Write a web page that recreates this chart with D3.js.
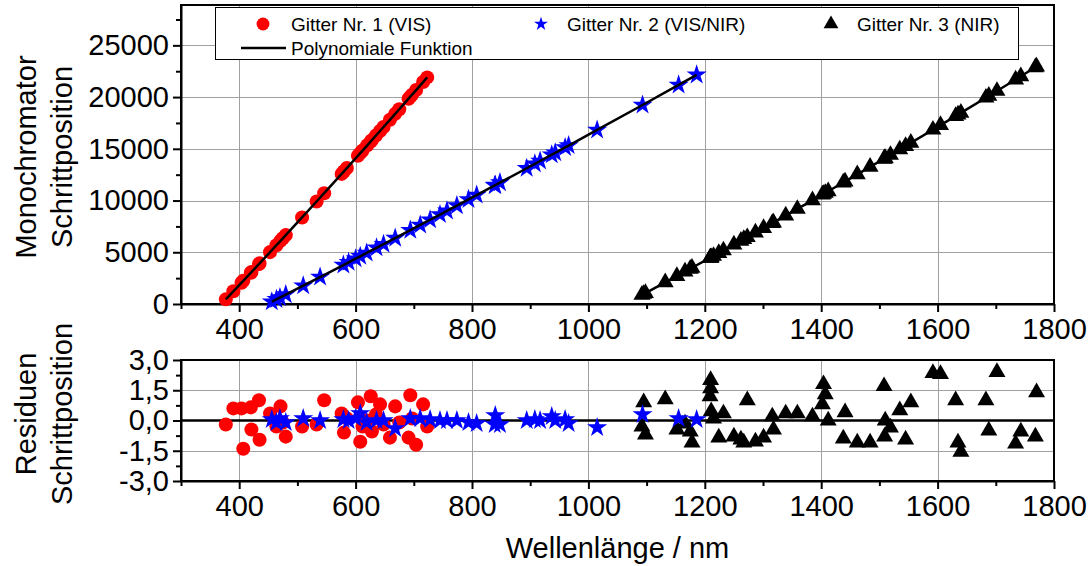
<!doctype html>
<html>
<head>
  <meta charset="utf-8">
  <style type="text/css">
    body { margin: 0; background: #fff; }
    svg { display: block; }
    text { font-family: "Liberation Sans", Arial, sans-serif; fill: #000; }
    .grid line { stroke: #a0a0a0; stroke-width: 1; shape-rendering: crispEdges; }
    .axis path, .axis line { fill: none; stroke: #000; stroke-width: 2; }
    .fit { fill: none; stroke: #000; stroke-width: 2.5; }
  </style>
  <title>Monochromator Kalibrierung</title>
</head>
<body>
<svg class="chart"></svg>

<script type="text/javascript" src="https://cdnjs.cloudflare.com/ajax/libs/d3/7.8.5/d3.min.js"></script>
<script type="text/javascript">

// Gitter Nr. 1 (VIS)
var redX   = [377, 390, 404, 407, 420, 421, 434, 435, 453, 464, 471, 475, 480, 508, 533, 546, 576, 580, 585,
              604, 608, 612, 620, 626, 628, 635, 642, 648, 659, 668, 675, 691, 694, 697, 704, 716, 723];
var redY   = [450, 1225, 2062, 2242, 3022, 3082, 3865, 3926, 5014, 5682, 6107, 6351, 6656, 8369, 9909, 10713,
              12577, 12827, 13139, 14330, 14581, 14832, 15336, 15714, 15840, 16283, 16725, 17106, 17804, 18377,
              18823, 19846, 20038, 20230, 20679, 21451, 21902];
var redRes = [-0.2, 0.6, 0.6, -1.4, 0.65, -0.45, 1.0, -0.95, 0.35, -0.3, 0.7, -0.1, -0.8, -0.3, -0.2, 1.0,
              0.35, -0.6, 0.1, 0.9, -1.05, -0.3, 0.0, 1.2, -0.55, 0.3, 0.8, -0.2, -0.85, 0.7, -0.1, -0.85,
              1.25, 0.1, -1.2, 0.8, -0.3];

// Gitter Nr. 2 (VIS/NIR)
var blueX   = [456, 464, 470, 480, 510, 539, 579, 588, 600, 608, 619, 636, 648, 668, 694, 711, 728, 745, 757,
               774, 794, 808, 839, 840, 848, 894, 908, 917, 937, 943, 960, 966, 1015, 1093, 1155, 1186];
var blueY   = [220, 449, 621, 907, 1769, 2606, 3766, 4027, 4377, 4610, 4932, 5429, 5781, 6368, 7136, 7638,
               8142, 8647, 9004, 9511, 10109, 10528, 11459, 11489, 11731, 13122, 13547, 13820, 14429, 14612,
               15132, 15316, 16821, 19237, 21175, 22149];
var blueRes = [0.05, -0.1, 0.1, -0.1, 0.1, 0.0, 0.05, 0.0, 0.1, 0.35, -0.1, 0.0, 0.0, -0.4, 0.1, 0.1, 0.05,
               0.0, 0.0, 0.0, -0.1, -0.15, -0.2, 0.25, -0.2, 0.0, 0.05, 0.0, 0.2, 0.0, 0.05, -0.15, -0.35,
               0.3, 0.1, 0.05];

// Gitter Nr. 3 (NIR)
var blackX   = [1092, 1095, 1098, 1132, 1152, 1166, 1175, 1178, 1209, 1210, 1210, 1211, 1215, 1224, 1232,
                1250, 1262, 1267, 1273, 1287, 1301, 1316, 1318, 1339, 1359, 1385, 1402, 1404, 1407, 1412,
                1438, 1441, 1462, 1484, 1508, 1509, 1510, 1519, 1535, 1545, 1554, 1592, 1605, 1631, 1635,
                1640, 1683, 1688, 1702, 1734, 1743, 1768, 1770];
var blackY   = [879, 970, 1060, 2092, 2703, 3132, 3408, 3501, 4458, 4490, 4490, 4521, 4645, 4924, 5174,
                5736, 6112, 6268, 6457, 6898, 7341, 7815, 7880, 8548, 9188, 10024, 10572, 10637, 10734, 10896,
                11742, 11840, 12526, 13249, 14041, 14074, 14107, 14405, 14937, 15270, 15571, 16846, 17284,
                18165, 18300, 18470, 19940, 20111, 20593, 21699, 22012, 22882, 22952];
var blackRes = [-0.3, 0.9, -0.7, 1.05, -0.45, -0.15, -0.55, -1.1, 1.2, 2.0, 1.6, 0.45, 0.1, -0.85, 0.35,
                -0.8, -0.95, -1.1, 1.0, -1.05, -0.85, 0.2, -0.45, 0.35, 0.35, 0.2, 0.8, 1.8, 1.3, 0.0,
                -0.9, 0.4, -1.1, -1.1, 1.7, -0.8, 0.0, -0.35, 0.5, -0.95, 0.9, 2.35, 2.3, 1.0, -1.1,
                -1.55, 1.0, -0.5, 2.4, -1.15, -0.55, -0.8, 1.4];

var xTicks      = [400, 600, 800, 1000, 1200, 1400, 1600, 1800];
var xMinor      = [300, 500, 700, 900, 1100, 1300, 1500, 1700];
var topTicks    = [0, 5000, 10000, 15000, 20000, 25000];
var topMinor    = [2500, 7500, 12500, 17500, 22500, 27500];
var resTicks    = [-3, -1.5, 0, 1.5, 3];
var resMinor    = [-2.25, -0.75, 0.75, 2.25];
var legendNames = ["Gitter Nr. 1 (VIS)", "Gitter Nr. 2 (VIS/NIR)", "Gitter Nr. 3 (NIR)", "Polynomiale Funktion"];

var width = 1089, height = 566;
var left = 181, right = 1054;

var svg = d3.select(".chart").attr("width", width).attr("height", height);

var x = d3.scaleLinear().domain([300, 1800]).range([left, right]);
var yTop = d3.scaleLinear().domain([0, 28900]).range([304, 5]);
var yRes = d3.scaleLinear().domain([-3, 3]).range([481, 360]);

var comma = function(d) { return d3.format(".1f")(d).replace(".", ",").replace("−", "-"); };
var plain = d3.format("d");

var series = [
  { name: legendNames[0], xs: redX, ys: redY, res: redRes, color: "#ff0000", type: "circle" },
  { name: legendNames[1], xs: blueX, ys: blueY, res: blueRes, color: "#0000ff", type: "star" },
  { name: legendNames[2], xs: blackX, ys: blackY, res: blackRes, color: "#000000", type: "triangle" }
];

function symbolPath(type, big) {
  if (type == "circle") return d3.symbol(d3.symbolCircle, big ? 155 : 130)();
  if (type == "star") return d3.symbol(d3.symbolStar, big ? 125 : 60)();
  return d3.symbol(d3.symbolTriangle, big ? 125 : 95)();
}

function panel(yScale, yTicks, yMinor, fmt, top, bottom) {
  var g = svg.append("g");

  // grid
  var grid = g.append("g").attr("class", "grid");
  grid.selectAll(".vx").data(xTicks.filter(function(d) { return d < 1800; })).enter().append("line")
    .attr("x1", function(d) { return Math.round(x(d)) + 0.5; })
    .attr("x2", function(d) { return Math.round(x(d)) + 0.5; })
    .attr("y1", top).attr("y2", bottom);
  grid.selectAll(".hy").data(yTicks.filter(function(d) { return d != 0 && yScale(d) > top + 2 && yScale(d) < bottom - 2; }))
    .enter().append("line")
    .attr("x1", left).attr("x2", right)
    .attr("y1", function(d) { return Math.round(yScale(d)) + 0.5; })
    .attr("y2", function(d) { return Math.round(yScale(d)) + 0.5; });

  // frame
  g.append("rect").attr("x", left).attr("y", top).attr("width", right - left).attr("height", bottom - top)
    .attr("fill", "none").attr("stroke", "#000").attr("stroke-width", 2);

  // axes
  var xa = g.append("g").attr("class", "axis").attr("transform", "translate(0," + bottom + ")");
  xa.call(d3.axisBottom(x).tickValues(xTicks).tickSize(8).tickSizeOuter(0).tickPadding(6).tickFormat(plain));
  xa.append("g").call(d3.axisBottom(x).tickValues(xMinor).tickSize(5).tickFormat("").tickSizeOuter(0))
    .select(".domain").remove();
  xa.selectAll("text").style("font-size", "29px").attr("fill", "#000");

  var ya = g.append("g").attr("class", "axis").attr("transform", "translate(" + left + ",0)");
  ya.call(d3.axisLeft(yScale).tickValues(yTicks).tickSize(8).tickSizeOuter(0).tickPadding(4).tickFormat(fmt));
  ya.append("g").call(d3.axisLeft(yScale).tickValues(yMinor).tickSize(5).tickFormat("").tickSizeOuter(0))
    .select(".domain").remove();
  ya.selectAll("text").style("font-size", "29px").attr("fill", "#000");
  return g;
}

// ---- top panel
var topG = panel(yTop, topTicks, topMinor, plain, 5, 304);

series.forEach(function(s) {
  var pts = s.xs.map(function(v, i) { return [v, s.ys[i]]; });
  topG.append("g").selectAll("path").data(pts).enter().append("path")
    .attr("d", symbolPath(s.type, true))
    .attr("fill", s.color)
    .attr("transform", function(d) { return "translate(" + x(d[0]) + "," + yTop(d[1]) + ")"; });
});

series.forEach(function(s) {
  var pts = s.xs.map(function(v, i) { return [v, s.ys[i]]; });
  topG.append("path").datum(pts).attr("class", "fit")
    .attr("d", d3.line().x(function(d) { return x(d[0]); }).y(function(d) { return yTop(d[1]); }));
});

// ---- residual panel
var resG = panel(yRes, resTicks, resMinor, comma, 360, 481);

resG.append("line").attr("x1", left).attr("x2", right)
  .attr("y1", yRes(0)).attr("y2", yRes(0)).attr("stroke", "#000").attr("stroke-width", 2.5);

[series[2], series[0], series[1]].forEach(function(s) {
  var pts = s.xs.map(function(v, i) { return [v, s.res[i]]; });
  resG.append("g").selectAll("path").data(pts).enter().append("path")
    .attr("d", symbolPath(s.type, true))
    .attr("fill", s.color)
    .attr("transform", function(d) { return "translate(" + x(d[0]) + "," + yRes(d[1]) + ")"; });
});

// ---- legend
var leg = svg.append("g");
leg.append("rect").attr("x", 215.5).attr("y", 7.5).attr("width", 803).attr("height", 52)
  .attr("fill", "#fff").attr("stroke", "#000").attr("stroke-width", 1);

var legPos = [[263, 291], [541, 567], [831, 857]];
series.forEach(function(s, i) {
  leg.append("path").attr("d", symbolPath(s.type, false)).attr("fill", s.color)
    .attr("transform", "translate(" + legPos[i][0] + ",24)");
  leg.append("text").attr("x", legPos[i][1]).attr("y", 31).style("font-size", "19px").text(s.name);
});
leg.append("line").attr("x1", 241).attr("x2", 286).attr("y1", 48).attr("y2", 48)
  .attr("stroke", "#000").attr("stroke-width", 2.5);
leg.append("text").attr("x", 291).attr("y", 55).style("font-size", "19px").text(legendNames[3]);

// ---- axis titles
svg.append("text").attr("text-anchor", "middle").style("font-size", "29px")
  .attr("x", (left + right) / 2).attr("y", 558).text("Wellenlänge / nm");

function yTitle(lines, cy) {
  var t = svg.append("text").attr("text-anchor", "middle").style("font-size", "29px")
    .attr("transform", "translate(0," + cy + ") rotate(-90)");
  t.append("tspan").attr("x", 0).attr("y", 36).text(lines[0]);
  t.append("tspan").attr("x", 0).attr("y", 72).text(lines[1]);
}
yTitle(["Monochromator", "Schrittposition"], 157);
yTitle(["Residuen", "Schrittposition"], 414);

</script>
</body>
</html>
